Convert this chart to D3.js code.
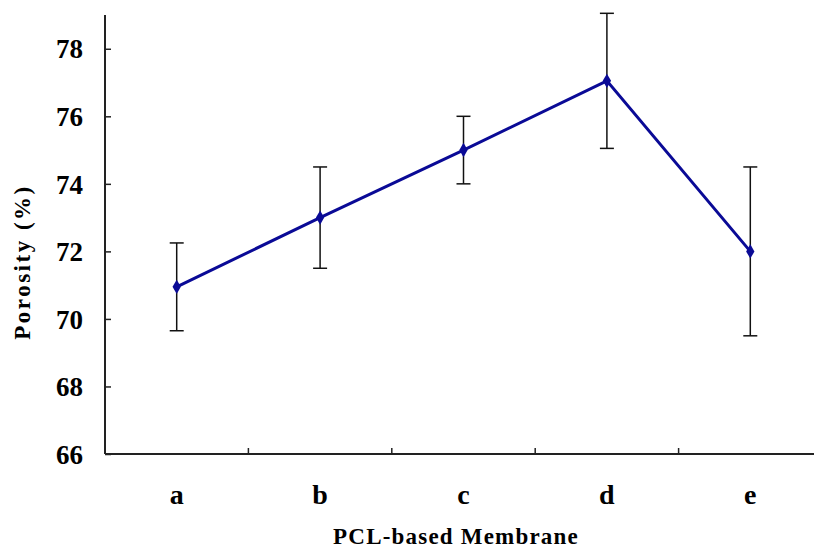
<!DOCTYPE html>
<html>
<head>
<meta charset="utf-8">
<script src="https://cdn.jsdelivr.net/npm/d3@7"></script>
<style>
html,body{margin:0;padding:0;background:#fff;}
svg{display:block;}
svg text{font-family:"Liberation Serif","Times New Roman",Times,"DejaVu Serif",serif !important;font-weight:bold;fill:#000;}
</style>
</head>
<body>
<svg id="chart" width="814" height="549"></svg>
<script>
const categories = ["a", "b", "c", "d", "e"];
const porosity = [70.95, 73.0, 75.0, 77.05, 72.0];
const errors = [1.3, 1.5, 1.0, 2.0, 2.5];
const yTicks = [66, 68, 70, 72, 74, 76, 78];
const xTitle = "PCL-based Membrane";
const yTitle = "Porosity (%)";

const svg = d3.select("#chart");
const mLeft = 105, mRight = 822, mTop = 15, mBottom = 454;

const x = d3.scaleBand().domain(categories).range([mLeft, mRight]).padding(0);
const y = d3.scaleLinear().domain([66, 79]).range([mBottom, mTop]);

// y axis
const yAxis = svg.append("g").attr("transform", `translate(${mLeft},0)`)
  .call(d3.axisLeft(y).tickValues(yTicks).tickSize(-6).tickPadding(22).tickFormat(d3.format("d")));
yAxis.attr("font-family", null);
yAxis.select(".domain").attr("stroke", "#222").attr("stroke-width", 2).attr("d", `M0,${mBottom}V${mTop}`);
yAxis.selectAll(".tick line").attr("stroke", "#222").attr("stroke-width", 1.5);
yAxis.selectAll(".tick text").style("font-size", "27px").attr("dy", "0.34em");

// x axis
const xAxis = svg.append("g").attr("transform", `translate(0,${mBottom})`)
  .call(d3.axisBottom(x).tickSize(0).tickPadding(30));
xAxis.attr("font-family", null);
xAxis.select(".domain").attr("stroke", "#222").attr("stroke-width", 2).attr("d", `M${mLeft},0H814`);
xAxis.selectAll(".tick text").style("font-size", "28px");
// boundary ticks between categories
svg.append("g").selectAll("line").data(categories.slice(1)).join("line")
  .attr("x1", d => x(d)).attr("x2", d => x(d))
  .attr("y1", mBottom).attr("y2", mBottom - 6)
  .attr("stroke", "#222").attr("stroke-width", 1.5);

// titles
svg.append("text").attr("x", 456).attr("y", 544).attr("text-anchor", "middle")
  .style("font-size", "23px").style("letter-spacing", "1.2px").text(xTitle);
svg.append("text").attr("transform", "translate(30,262) rotate(-90)").attr("text-anchor", "middle")
  .style("font-size", "23px").style("letter-spacing", "2.5px").text(yTitle);

const cx = d => x(d) + x.bandwidth() / 2;
const data = categories.map((c, i) => ({c, v: porosity[i], e: errors[i]}));

// error bars
const eb = svg.append("g").attr("stroke", "#111").attr("stroke-width", 1.5);
data.forEach(d => {
  const X = cx(d.c);
  eb.append("line").attr("x1", X).attr("x2", X).attr("y1", y(d.v + d.e)).attr("y2", y(d.v - d.e));
  eb.append("line").attr("x1", X - 7).attr("x2", X + 7).attr("y1", y(d.v + d.e)).attr("y2", y(d.v + d.e));
  eb.append("line").attr("x1", X - 7).attr("x2", X + 7).attr("y1", y(d.v - d.e)).attr("y2", y(d.v - d.e));
});

// line
svg.append("path").datum(data)
  .attr("fill", "none").attr("stroke", "#0a0a96").attr("stroke-width", 3)
  .attr("d", d3.line().x(d => cx(d.c)).y(d => y(d.v)));

svg.append("g").selectAll("path").data(data).join("path")
  .attr("transform", d => `translate(${cx(d.c)},${y(d.v)})`)
  .attr("d", d3.symbol(d3.symbolDiamond, 60))
  .attr("fill", "#0a0a96");
</script>
</body>
</html>
